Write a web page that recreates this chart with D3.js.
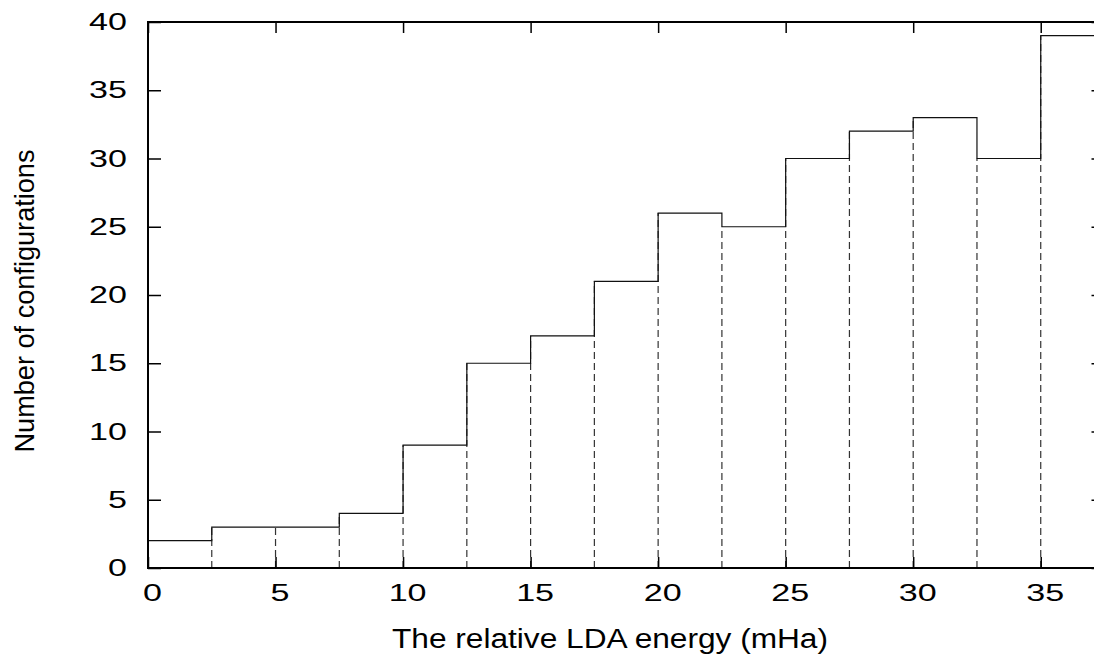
<!DOCTYPE html>
<html>
<head>
<meta charset="utf-8">
<script src="https://cdn.jsdelivr.net/npm/d3@7"></script>
<style>
  html, body { margin: 0; padding: 0; background: #fff; }
  svg { display: block; }
  text { font-family: "Liberation Sans", Arial, sans-serif; fill: #000; }
</style>
</head>
<body>
<svg id="chart" width="1094" height="656"></svg>
<script>
// ---- data ----
const binStarts = [0, 2.5, 5, 7.5, 10, 12.5, 15, 17.5, 20, 22.5, 25, 27.5, 30, 32.5, 35];
const binWidth = 2.5;
const counts = [2, 3, 3, 4, 9, 15, 17, 21, 26, 25, 30, 32, 33, 30, 39];
const xTicks = [0, 5, 10, 15, 20, 25, 30, 35];
const yTicks = [0, 5, 10, 15, 20, 25, 30, 35, 40];
const xLabel = "The relative LDA energy (mHa)";
const yLabel = "Number of configurations";

// ---- layout ----
const L = 148, R = 1104.5, T = 22, B = 568;
const sx = 1.42; // horizontal glyph stretch seen in the reference
const svg = d3.select("#chart");
svg.append("rect").attr("width", 1094).attr("height", 656).attr("fill", "#fff");

const x = d3.scaleLinear().domain([0, 37.5]).range([L, R]);
const y = d3.scaleLinear().domain([0, 40]).range([B, T]);

// dashed box left edges
const g = svg.append("g");
g.selectAll("line.dash")
  .data(binStarts.map((s, i) => ({ s, v: counts[i] })).filter(d => d.s > 0))
  .enter().append("line")
  .attr("class", "dash")
  .attr("x1", d => x(d.s)).attr("x2", d => x(d.s))
  .attr("y1", y(0)).attr("y2", d => y(d.v))
  .attr("stroke", "#333").attr("stroke-width", 1.2)
  .attr("stroke-dasharray", "7,4");

// solid step outline
const stepPts = [];
binStarts.forEach((s, i) => {
  stepPts.push([s, counts[i]]);
  stepPts.push([s + binWidth, counts[i]]);
});
g.append("path")
  .attr("d", d3.line().x(d => x(d[0])).y(d => y(d[1]))(stepPts))
  .attr("fill", "none").attr("stroke", "#111").attr("stroke-width", 1.2);

// axes
const fs = 24;
const axB = svg.append("g").attr("transform", `translate(0,${B})`)
  .call(d3.axisBottom(x).tickValues(xTicks).tickSize(-11).tickPadding(16).tickFormat(d3.format("d")));
const axT = svg.append("g").attr("transform", `translate(0,${T})`)
  .call(d3.axisTop(x).tickValues(xTicks).tickSize(-11).tickFormat(""));
const axL = svg.append("g").attr("transform", `translate(${L},0)`)
  .call(d3.axisLeft(y).tickValues(yTicks).tickSize(-13).tickPadding(21).tickFormat(d3.format("d")));
const axR = svg.append("g").attr("transform", `translate(${R},0)`)
  .call(d3.axisRight(y).tickValues(yTicks).tickSize(-13).tickFormat(""));

[axB, axT, axL, axR].forEach(a => {
  a.select(".domain").remove();
  a.selectAll(".tick line").attr("stroke", "#000").attr("stroke-width", 1.5);
  a.selectAll("text").attr("font-size", fs).attr("font-family", '"Liberation Sans", Arial, sans-serif').attr("fill", "#000");
});
axB.selectAll(".tick text").attr("x", 4 / sx).attr("transform", `scale(${sx},1)`);
axL.selectAll(".tick text").attr("x", -21 / sx).attr("transform", `scale(${sx},1)`);

// frame
svg.append("rect")
  .attr("x", L).attr("y", T).attr("width", R - L).attr("height", B - T)
  .attr("fill", "none").attr("stroke", "#000").attr("stroke-width", 2);

// axis labels
svg.append("text")
  .attr("x", 610).attr("y", 648)
  .attr("text-anchor", "middle")
  .attr("font-size", 27)
  .attr("textLength", 436).attr("lengthAdjust", "spacingAndGlyphs")
  .text(xLabel);

svg.append("text")
  .attr("transform", "translate(34,301) rotate(-90)")
  .attr("text-anchor", "middle")
  .attr("font-size", 28)
  .attr("textLength", 303).attr("lengthAdjust", "spacingAndGlyphs")
  .text(yLabel);
</script>
</body>
</html>
